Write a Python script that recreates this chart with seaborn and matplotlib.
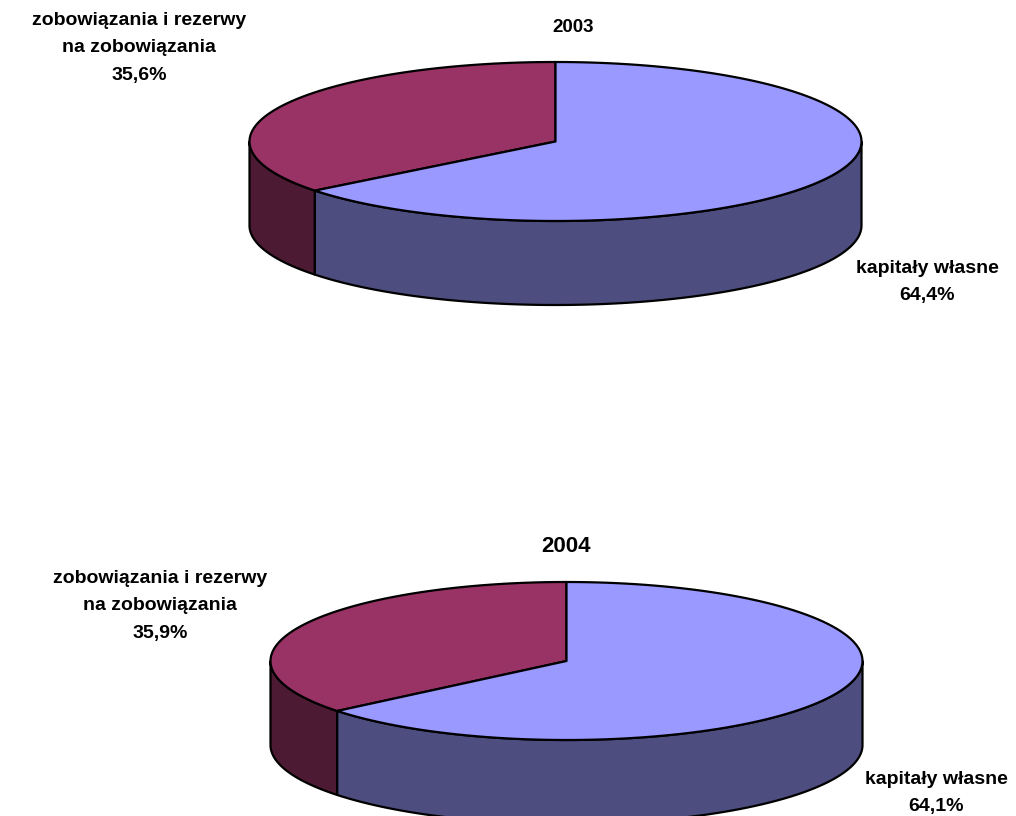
import numpy as np
import seaborn as sns
import matplotlib
matplotlib.use('Agg')
import matplotlib.pyplot as plt
from matplotlib.patches import Polygon

# data
years = ['2003', '2004']
categories = ['zobowiązania i rezerwy\nna zobowiązania', 'kapitały własne']
shares_2003 = [35.6, 64.4]
shares_2004 = [35.9, 64.1]
top_colors = ['#993366', '#9999FF']
side_colors = ['#4D1A33', '#4D4D80']

sns.set_style('white')
plt.rcParams['font.family'] = ['Liberation Sans', 'DejaVu Sans']

fig = plt.figure(figsize=(10.16, 8.16), dpi=100)
ax = fig.add_axes([0, 0, 1, 1])
ax.set_xlim(0, 1016)
ax.set_ylim(816, 0)
ax.axis('off')


def arc(cx, cy, a, b, t0, t1, dy=0, n=120):
    t = np.radians(np.linspace(t0, t1, n))
    return np.column_stack([cx + a * np.cos(t), cy - b * np.sin(t) + dy])


def draw_pie3d(ax, shares, cx, cy, a, b, depth):
    # slices start at 12 o'clock and go counterclockwise
    bounds = [90.0]
    for s in shares:
        bounds.append(bounds[-1] + 360.0 * s / 100.0)
    # side walls (front half only: 180..360 deg)
    for i in range(len(shares)):
        t0, t1 = bounds[i], bounds[i + 1]
        for lo, hi in [(180, 360), (540, 720)]:
            s0, s1 = max(t0, lo), min(t1, hi)
            if s1 > s0:
                top = arc(cx, cy, a, b, s0, s1)
                bot = arc(cx, cy, a, b, s1, s0, dy=depth)
                ax.add_patch(Polygon(np.vstack([top, bot]), closed=True,
                                     facecolor=side_colors[i], edgecolor='black',
                                     linewidth=1.6, joinstyle='round'))
    # top faces
    for i in range(len(shares)):
        pts = np.vstack([[cx, cy], arc(cx, cy, a, b, bounds[i], bounds[i + 1])])
        ax.add_patch(Polygon(pts, closed=True, facecolor=top_colors[i],
                             edgecolor='black', linewidth=1.6, joinstyle='round'))


draw_pie3d(ax, shares_2003, 555.5, 141.5, 306, 79.5, 84)
draw_pie3d(ax, shares_2004, 566.5, 661, 296, 79, 84)

lab = dict(ha='center', va='center', fontweight='bold', fontsize=14,
           linespacing=1.8, color='black')

ax.text(573, 27, years[0], ha='center', va='center', fontweight='bold',
        fontsize=13.5, color='black')
ax.text(139, 48, f'{categories[0]}\n{shares_2003[0]:.1f}%'.replace('.', ','), **lab)
ax.text(927, 282, f'{categories[1]}\n{shares_2003[1]:.1f}%'.replace('.', ','), **lab)

ax.text(566, 547, years[1], ha='center', va='center', fontweight='bold',
        fontsize=16, color='black')
ax.text(160, 606, f'{categories[0]}\n{shares_2004[0]:.1f}%'.replace('.', ','), **lab)
ax.text(936, 793, f'{categories[1]}\n{shares_2004[1]:.1f}%'.replace('.', ','), **lab)

fig.savefig('out.png', dpi=100, facecolor='white')
